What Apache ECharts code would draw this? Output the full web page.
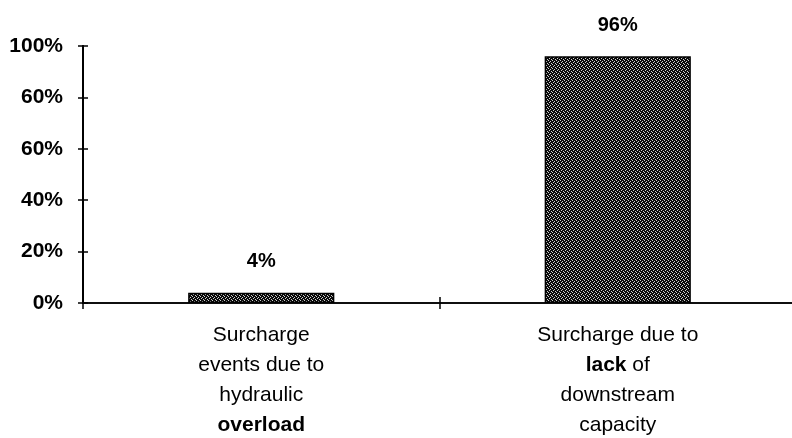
<!DOCTYPE html>
<html>
<head>
<meta charset="utf-8">
<script src="https://cdn.jsdelivr.net/npm/echarts@6/dist/echarts.min.js"></script>
<style>
html,body{margin:0;padding:0;background:#fff;}
#chart{width:792px;height:438px;}
</style>
</head>
<body>
<div id="chart"></div>
<script>
// Data
var categories = [
  "Surcharge\nevents due to\nhydraulic\n{b|overload}",
  "Surcharge due to\n{b|lack} of\ndownstream\ncapacity"
];
var values = [4, 96];
var yTickLabels = ["0%", "20%", "40%", "60%", "60%", "100%"];

// stipple pattern
var pc = document.createElement('canvas');
pc.width = 4; pc.height = 4;
var pctx = pc.getContext('2d');
pctx.fillStyle = '#0a0a0a';
pctx.fillRect(0, 0, 4, 4);
pctx.fillStyle = '#d0d0d0';
pctx.fillRect(0, 0, 1, 1);
pctx.fillRect(2, 1, 1, 1);
pctx.fillRect(1, 2, 1, 1);
pctx.fillRect(3, 3, 1, 1);

var chart = echarts.init(document.getElementById('chart'), null, {renderer: 'canvas'});
var font = '"Liberation Sans", Arial, sans-serif';
var yAxisCommon = {
  type: 'value', min: 0, max: 100, interval: 20,
  splitLine: {show: false},
  axisLine: {show: true, lineStyle: {color: '#000', width: 2}}
};
var xAxisCommon = {
  type: 'category',
  data: categories,
  axisLine: {lineStyle: {color: '#000', width: 1.5}}
};
chart.setOption({
  animation: false,
  grid: {left: 83, right: -4, top: 46, bottom: 135, containLabel: false, outerBoundsMode: 'none'},
  xAxis: [
    Object.assign({}, xAxisCommon, {
      axisTick: {show: true, length: 6, lineStyle: {color: '#000', width: 1.5}},
      axisLabel: {
        interval: 0, color: '#000', fontFamily: font, fontSize: 21,
        lineHeight: 30, margin: 17,
        rich: {b: {fontWeight: 'bold', fontSize: 21, fontFamily: font, color: '#000', lineHeight: 30}}
      }
    }),
    Object.assign({}, xAxisCommon, {
      position: 'bottom',
      axisTick: {show: true, inside: true, length: 6, lineStyle: {color: '#000', width: 1.5}},
      axisLabel: {show: false}
    })
  ],
  yAxis: [
    Object.assign({}, yAxisCommon, {
      axisTick: {show: true, length: 5, lineStyle: {color: '#000', width: 1.5}},
      axisLabel: {
        color: '#000', fontFamily: font, fontSize: 21, fontWeight: 'bold', margin: 20,
        formatter: function (v) { return yTickLabels[Math.round(v / 20)]; }
      }
    }),
    Object.assign({}, yAxisCommon, {
      position: 'left',
      axisTick: {show: true, inside: true, length: 5, lineStyle: {color: '#000', width: 1.5}},
      axisLabel: {show: false}
    })
  ],
  series: [{
    type: 'bar',
    data: values,
    barWidth: '41%',
    itemStyle: {
      color: {image: pc, repeat: 'repeat'},
      borderColor: '#000', borderWidth: 1.5
    },
    label: {
      show: true, position: 'top', distance: 21,
      color: '#000', fontFamily: font, fontSize: 20, fontWeight: 'bold',
      formatter: function (p) { return p.value + '%'; }
    }
  }]
});
</script>
</body>
</html>
